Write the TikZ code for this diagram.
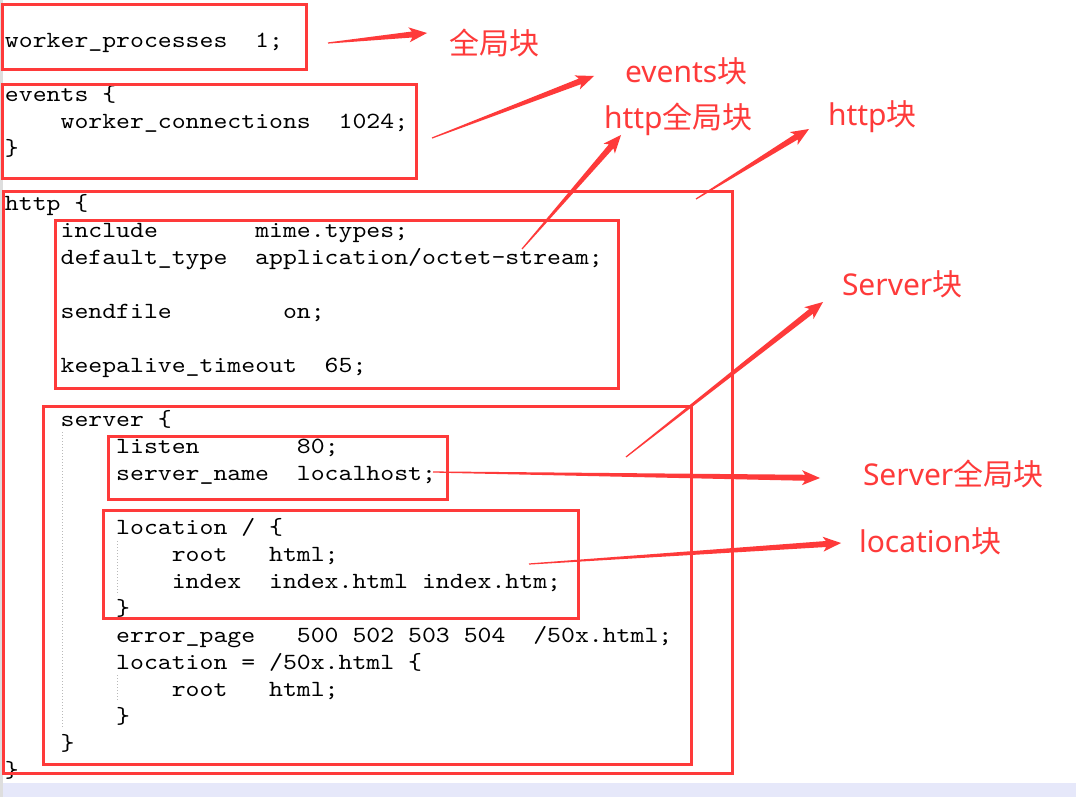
\documentclass[tikz,border=0pt]{standalone}
\usepackage{fontspec}
\usetikzlibrary{calc}
\newfontfamily\codefont{lmmono10-regular.otf}[FakeStretch=1.143]
\newfontfamily\cjkfont{Noto Sans CJK SC}
\newfontfamily\latfont{Noto Sans}
\definecolor{annot}{RGB}{254,58,58}
\definecolor{stripgray}{RGB}{222,222,222}
\definecolor{lavender}{RGB}{230,232,250}
\definecolor{guidegray}{RGB}{185,185,185}
\tikzset{
  codeline/.style={anchor=base west, inner sep=0pt, outer sep=0pt, text=black,
    font=\codefont\fontsize{23.17}{27}\selectfont},
  redbox/.style={draw=annot, line width=3pt},
  lbl/.style={anchor=base west, inner sep=0pt, outer sep=0pt, text=annot,
    font=\fontsize{30}{34}\selectfont},
  guide/.style={draw=guidegray, line width=1pt, dash pattern=on 1pt off 2pt},
}
\newcommand{\cl}[4]{\node[codeline] (#1) at ({5+13.9*#2},{21+27*#3}) {#4};}
\newcommand{\taparrow}[2]{%
  \path ($(#2)!15pt!(#1)$) coordinate (hb) ($(#2)!18pt!(#1)$) coordinate (hk);
  \fill[annot] ($(#1)!0.6pt!90:(#2)$) -- ($(hb)!3pt!90:(#2)$) -- ($(hk)!7.5pt!90:(#2)$)
    -- (#2) -- ($(hk)!7.5pt!-90:(#2)$) -- ($(hb)!3pt!-90:(#2)$) -- ($(#1)!0.6pt!-90:(#2)$) -- cycle;}
\begin{document}
\begin{tikzpicture}[x=1pt,y=-1pt]
\useasboundingbox (0,0) rectangle (1076,797);
\fill[white] (0,0) rectangle (1076,797);
\fill[stripgray] (0,0) rectangle (3,797);
\fill[lavender] (3,783) rectangle (1076,797);

% indent guides
\coordinate (g1a) at (62,432); \coordinate (g1b) at (62,727);
\coordinate (g2a) at (117.5,541); \coordinate (g2b) at (117.5,595);
\coordinate (g3a) at (117.5,675); \coordinate (g3b) at (117.5,702);
\draw[guide] (g1a) -- (g1b);
\draw[guide] (g2a) -- (g2b);
\draw[guide] (g3a) -- (g3b);

% code
\cl{l1}{0}{1}{worker\_processes\ \ 1;}
\cl{l3}{0}{3}{events \{}
\cl{l4}{4}{4}{worker\_connections\ \ 1024;}
\cl{l5}{0}{5}{\}}
\cl{l7}{0}{7}{http \{}
\cl{l8}{4}{8}{include\ \ \ \ \ \ \ mime.types;}
\cl{l9}{4}{9}{default\_type\ \ application/octet-stream;}
\cl{l11}{4}{11}{sendfile\ \ \ \ \ \ \ \ on;}
\cl{l13}{4}{13}{keepalive\_timeout\ \ 65;}
\cl{l15}{4}{15}{server \{}
\cl{l16}{8}{16}{listen\ \ \ \ \ \ \ 80;}
\cl{l17}{8}{17}{server\_name\ \ localhost;}
\cl{l19}{8}{19}{location / \{}
\cl{l20}{12}{20}{root\ \ \ html;}
\cl{l21}{12}{21}{index\ \ index.html index.htm;}
\cl{l22}{8}{22}{\}}
\cl{l23}{8}{23}{error\_page\ \ \ 500 502 503 504\ \ /50x.html;}
\cl{l24}{8}{24}{location = /50x.html \{}
\cl{l25}{12}{25}{root\ \ \ html;}
\cl{l26}{8}{26}{\}}
\cl{l27}{4}{27}{\}}
\cl{l28}{0}{28}{\}}

% red boxes
\draw[redbox] (2.5,4.5) rectangle (306,69.5);
\draw[redbox] (2.5,84.5) rectangle (416,178.5);
\draw[redbox] (3.5,191) rectangle (732,773.5);
\draw[redbox] (55,220) rectangle (618,388);
\draw[redbox] (43.5,406) rectangle (691.5,764.5);
\draw[redbox] (108,436) rectangle (447,499.5);
\draw[redbox] (103,510) rectangle (578,618);

% labels
\node[lbl] (t1) at (449,55) {\cjkfont 全局块};
\node[lbl] (t2) at (625,83) {\latfont events\cjkfont 块};
\node[lbl] (t3) at (604,129) {\latfont http\cjkfont 全局块};
\node[lbl] (t4) at (828,126) {\latfont http\cjkfont 块};
\node[lbl] (t5) at (842,295) {\latfont Server\cjkfont 块};
\node[lbl] (t6) at (863,485) {\latfont Server\cjkfont 全局块};
\node[lbl] (t7) at (859,552) {\latfont location\cjkfont 块};

% arrows
\coordinate (a1t) at (328,43);  \coordinate (a1h) at (427,33);
\coordinate (a2t) at (432,138); \coordinate (a2h) at (594,76);
\coordinate (a3t) at (522,249); \coordinate (a3h) at (621,135);
\coordinate (a4t) at (696,199); \coordinate (a4h) at (809,129);
\coordinate (a5t) at (626,457); \coordinate (a5h) at (823,302);
\coordinate (a6t) at (433,472); \coordinate (a6h) at (820,478);
\coordinate (a7t) at (529,564); \coordinate (a7h) at (841,543);
\taparrow{a1t}{a1h}
\taparrow{a2t}{a2h}
\taparrow{a3t}{a3h}
\taparrow{a4t}{a4h}
\taparrow{a5t}{a5h}
\taparrow{a6t}{a6h}
\taparrow{a7t}{a7h}
\end{tikzpicture}
\end{document}
